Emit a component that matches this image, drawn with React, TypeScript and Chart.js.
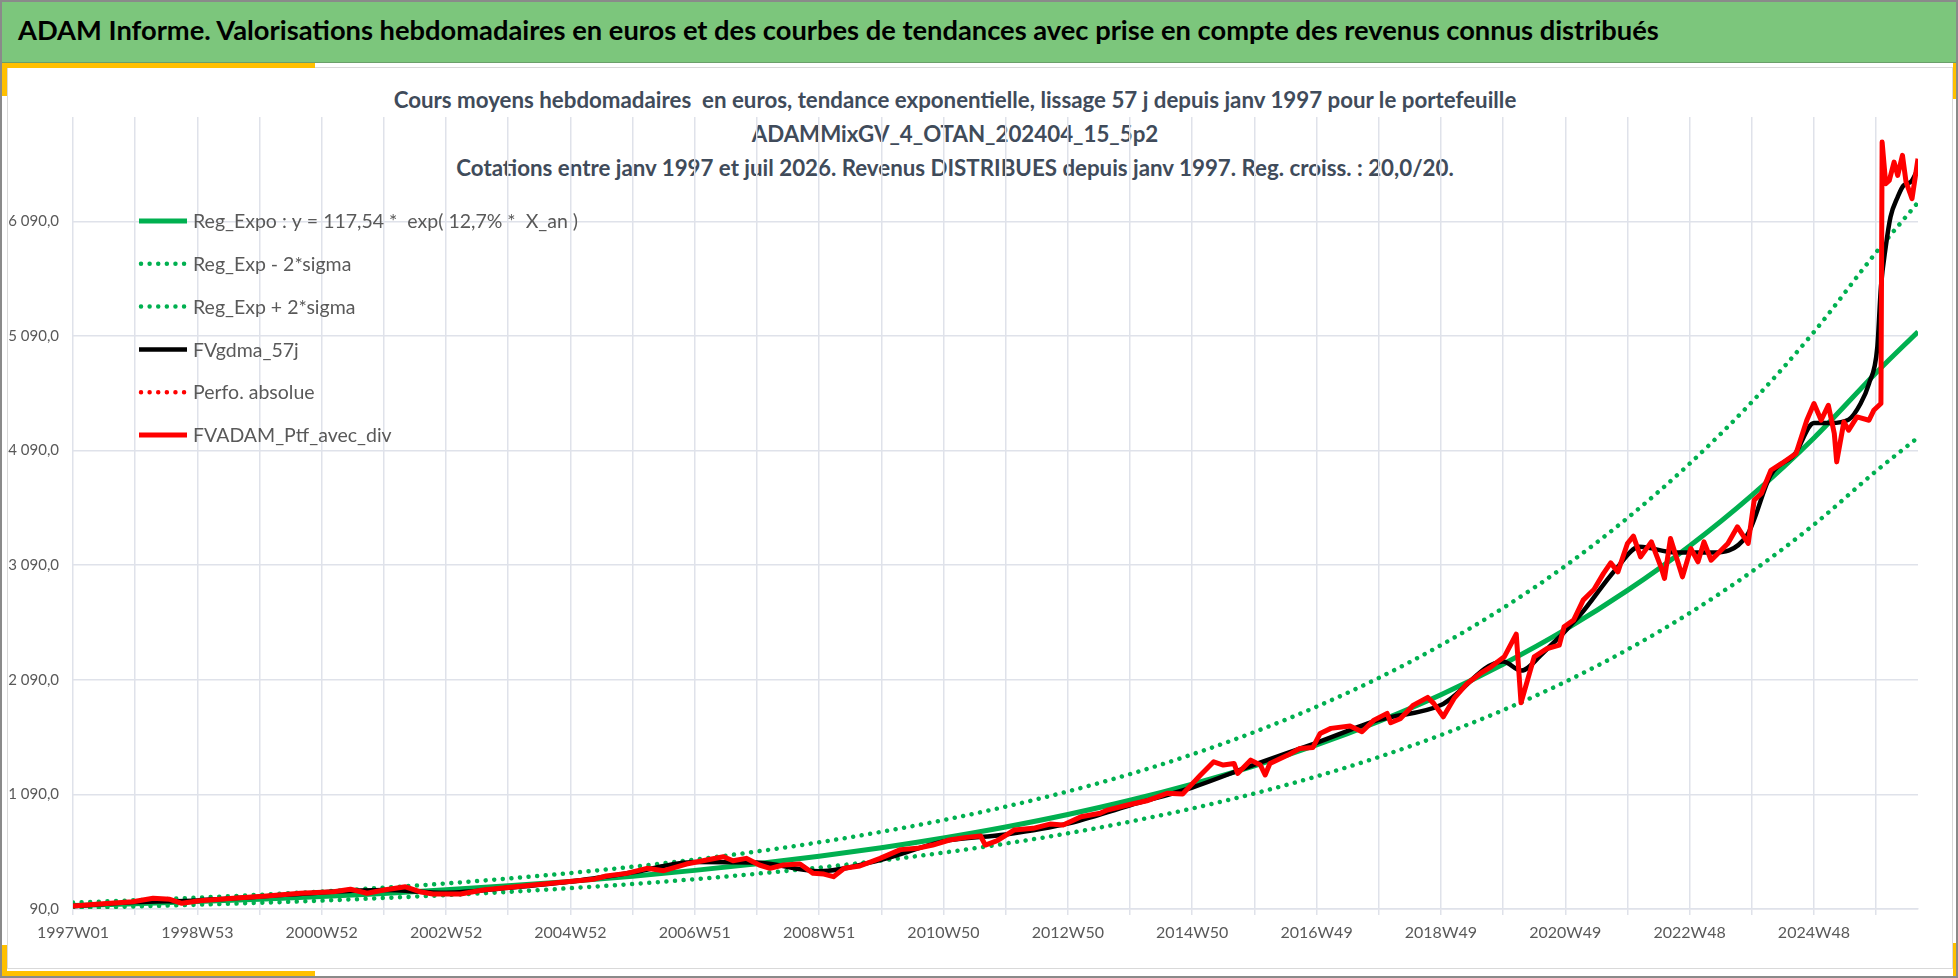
import { useEffect, useRef } from "react";
import { Chart, registerables } from "chart.js";

Chart.register(...registerables);

const FONT = "Lato, 'Open Sans', sans-serif";
const GREEN = "#00b050";
const RED = "#ff0000";
const GRID = "#dfe2ea";
const TEXT = "#595959";
const TITLE_COLOR = "#404b5a";

// x axis: week index since 1997W01, one gridline a year, one label every two years
const TICK_LABELS = [
  "1997W01", "1998W53", "2000W52", "2002W52", "2004W52", "2006W51", "2008W51", "2010W50",
  "2012W50", "2014W50", "2016W49", "2018W49", "2020W49", "2022W48", "2024W48",
];
const GRID_WEEKS = [
  0, 52, 104, 156, 208, 260, 312, 364, 416, 468, 520, 572, 624, 676, 728, 780,
  832, 884, 936, 988, 1040, 1092, 1144, 1196, 1248, 1300, 1352, 1404, 1456, 1508,
];
const LAST_WEEK = 1543;
const Y_TICKS = [90, 1090, 2090, 3090, 4090, 5090, 6090];

const SERIES_LABELS = [
  "Reg_Expo : y = 117,54 *  exp( 12,7% *  X_an )",
  "Reg_Exp - 2*sigma",
  "Reg_Exp + 2*sigma",
  "FVgdma_57j",
  "Perfo. absolue",
  "FVADAM_Ptf_avec_div",
];

// regression curves, read once a year
const REG_WEEKS = [
  0, 52, 104, 156, 208, 260, 312, 364, 416, 468, 520, 572, 624, 676, 728, 780,
  832, 884, 936, 988, 1040, 1092, 1144, 1196, 1248, 1300, 1352, 1404, 1456, 1508, 1543,
];
const REG_EXPO = [
  120, 136, 155, 176, 199, 226, 257, 292, 331, 376, 427, 485, 550, 625, 710, 806,
  915, 1039, 1180, 1339, 1521, 1727, 1960, 2226, 2527, 2870, 3258, 3699, 4200, 4769, 5127,
];
const REG_MINUS = [
  98, 112, 127, 144, 163, 186, 211, 239, 272, 308, 350, 398, 451, 513, 582, 661,
  750, 852, 967, 1098, 1247, 1416, 1608, 1825, 2072, 2353, 2672, 3034, 3444, 3911, 4204,
];
const REG_PLUS = [
  146, 166, 189, 214, 243, 276, 313, 356, 404, 459, 521, 592, 672, 763, 866, 983,
  1116, 1267, 1439, 1634, 1855, 2106, 2392, 2716, 3083, 3501, 3975, 4513, 5125, 5819, 6255,
];

// portfolio value with dividends
const PTF_WEEKS = [
  0, 22, 50, 67, 81, 91, 106, 134, 162, 190, 218, 232, 246, 260, 278, 290, 301, 324, 343, 366,
  385, 413, 435, 446, 463, 480, 494, 513, 530, 544, 552, 563, 574, 583, 594, 608, 619, 628, 636, 645,
  658, 675, 692, 706, 719, 733, 747, 759, 763, 773, 787, 803, 817, 828, 843, 859, 865, 882, 898, 915,
  928, 935, 943, 954, 962, 971, 974, 985, 993, 997, 1001, 1016, 1026, 1037, 1043, 1052, 1068, 1078, 1088, 1099,
  1102, 1110, 1121, 1133, 1138, 1146, 1155, 1166, 1177, 1186, 1197, 1207, 1211, 1222, 1233, 1243, 1247, 1255, 1263, 1272,
  1280, 1286, 1292, 1300, 1305, 1311, 1320, 1328, 1331, 1336, 1346, 1353, 1359, 1364, 1370, 1384, 1392, 1401, 1406, 1412,
  1420, 1429, 1441, 1450, 1456, 1462, 1468, 1473, 1475, 1481, 1485, 1492, 1502, 1506, 1512, 1513, 1516, 1519, 1523, 1526,
  1530, 1533, 1538, 1543,
];
const PTF_VALUES = [
  116, 134, 154, 183, 175, 140, 162, 183, 203, 227, 241, 262, 227, 256, 284, 241, 221, 221, 256, 279,
  299, 328, 349, 378, 401, 445, 424, 482, 517, 546, 511, 532, 474, 445, 474, 482, 401, 395, 372, 445,
  465, 532, 608, 619, 648, 692, 715, 727, 648, 686, 779, 794, 831, 823, 895, 925, 953, 997, 1034, 1099,
  1093, 1171, 1259, 1374, 1346, 1360, 1273, 1389, 1346, 1259, 1360, 1433, 1491, 1500, 1622, 1666, 1686, 1636, 1738, 1797,
  1715, 1750, 1869, 1936, 1884, 1767, 1927, 2058, 2145, 2203, 2290, 2488, 1889, 2290, 2363, 2392, 2552, 2610, 2785, 2878,
  3018, 3110, 3031, 3279, 3343, 3162, 3293, 3075, 2974, 3323, 2988, 3235, 3119, 3293, 3133, 3279, 3424, 3279, 3657, 3715,
  3918, 3977, 4064, 4354, 4500, 4354, 4485, 4238, 3991, 4339, 4267, 4383, 4354, 4441, 4500, 6781, 6418, 6447, 6607, 6491,
  6665, 6433, 6288, 6636,
];

// 57-day smoothed value
const GDMA_WEEKS = [
  0, 52, 104, 156, 208, 260, 312, 364, 416, 468, 520, 572, 624, 676, 728, 780,
  832, 884, 936, 988, 1040, 1092, 1144, 1196, 1211, 1230, 1260, 1290, 1310, 1340,
  1370, 1400, 1420, 1440, 1456, 1470, 1485, 1495, 1502, 1509, 1512, 1516, 1520, 1526,
  1531, 1537, 1543,
];
const GDMA_57J = [
  116, 150, 165, 198, 235, 255, 232, 275, 330, 410, 500, 495, 420, 520, 680, 740,
  835, 995, 1150, 1350, 1540, 1740, 1870, 2250, 2170, 2330, 2650, 3050, 3250, 3200,
  3200, 3350, 3880, 4060, 4330, 4330, 4360, 4500, 4674, 4994, 5517, 5866, 6128, 6302,
  6404, 6433, 6549,
];

const PERFO_ABS: number[] = [];

const pts = (xs: number[], ys: number[]) => xs.map((x, i) => ({ x, y: ys[i] }));

const frNumber = (v: number) => {
  const [i, d] = v.toFixed(1).split(".");
  return i.replace(/\B(?=(\d{3})+(?!\d))/g, " ") + "," + d;
};

// legend drawn inside the plot, top left, like the spreadsheet
const insideLegend = {
  id: "insideLegend",
  afterDraw(chart: any) {
    const { ctx } = chart;
    chart.data.datasets.forEach((ds: any, i: number) => {
      const y = 221 + i * 42.8;
      ctx.save();
      ctx.strokeStyle = ds.borderColor;
      ctx.lineWidth = ds.borderWidth;
      ctx.lineCap = ds.borderCapStyle || "butt";
      ctx.setLineDash(ds.borderDash || []);
      ctx.beginPath();
      ctx.moveTo(ds.borderDash ? 141 : 139, y);
      ctx.lineTo(187, y);
      ctx.stroke();
      ctx.setLineDash([]);
      ctx.fillStyle = TEXT;
      ctx.font = `19.5px ${FONT}`;
      ctx.textBaseline = "middle";
      ctx.fillText(ds.label, 193, y + 1);
      ctx.restore();
    });
  },
};

function TrendChart() {
  const canvasRef = useRef<HTMLCanvasElement>(null);

  useEffect(() => {
    if (!canvasRef.current) return;
    const dotted = { borderDash: [0.01, 8.6], borderCapStyle: "round" as const };
    const chart = new Chart(canvasRef.current, {
      type: "line",
      data: {
        datasets: [
          { label: SERIES_LABELS[0], data: pts(REG_WEEKS, REG_EXPO), borderColor: GREEN, borderWidth: 5, cubicInterpolationMode: "monotone", order: 4 },
          { label: SERIES_LABELS[1], data: pts(REG_WEEKS, REG_MINUS), borderColor: GREEN, borderWidth: 4.5, cubicInterpolationMode: "monotone", order: 5, ...dotted },
          { label: SERIES_LABELS[2], data: pts(REG_WEEKS, REG_PLUS), borderColor: GREEN, borderWidth: 4.5, cubicInterpolationMode: "monotone", order: 5, ...dotted },
          { label: SERIES_LABELS[3], data: pts(GDMA_WEEKS, GDMA_57J), borderColor: "#000000", borderWidth: 4.5, cubicInterpolationMode: "monotone", order: 3 },
          { label: SERIES_LABELS[4], data: PERFO_ABS, borderColor: RED, borderWidth: 4.5, order: 2, ...dotted },
          { label: SERIES_LABELS[5], data: pts(PTF_WEEKS, PTF_VALUES), borderColor: RED, borderWidth: 5, tension: 0, borderJoinStyle: "round", order: 1 },
        ],
      },
      options: {
        animation: false,
        responsive: true,
        maintainAspectRatio: false,
        parsing: false,
        elements: { point: { radius: 0 } },
        layout: { padding: { left: 0, top: 117, right: 40, bottom: 29 } },
        scales: {
          x: {
            type: "linear",
            min: 0,
            max: LAST_WEEK,
            afterBuildTicks: (s: any) => { s.ticks = GRID_WEEKS.map(value => ({ value })); },
            afterFit: (s: any) => { s.height = 40; },
            ticks: {
              autoSkip: false,
              maxRotation: 0,
              padding: 8,
              color: TEXT,
              font: { family: FONT, size: 16 },
              callback: (_v: any, i: number) => (i % 2 === 0 ? TICK_LABELS[i / 2] : ""),
            },
            grid: { color: GRID, lineWidth: 1.5, tickLength: 6 },
            border: { color: GRID, width: 1.5 },
          },
          y: {
            type: "linear",
            min: 90,
            max: 7000,
            afterBuildTicks: (s: any) => { s.ticks = Y_TICKS.map(value => ({ value })); },
            afterFit: (s: any) => { s.width = 73; },
            ticks: {
              padding: 14,
              color: TEXT,
              font: { family: FONT, size: 15 },
              callback: (v: any) => frNumber(Number(v)),
            },
            grid: { color: GRID, lineWidth: 1.5, drawTicks: false },
            border: { display: false },
          },
        },
        plugins: {
          legend: { display: false },
          tooltip: { enabled: false },
        },
      },
      plugins: [insideLegend],
    });
    return () => chart.destroy();
  }, []);

  return <canvas ref={canvasRef} />;
}

export default function App() {
  const abs = (s: React.CSSProperties): React.CSSProperties => ({ position: "absolute", ...s });
  const titleLine: React.CSSProperties = {
    position: "absolute", left: 0, width: 1910, textAlign: "center", color: TITLE_COLOR,
    fontFamily: FONT, fontSize: 22.3, fontWeight: 700, lineHeight: "26px", whiteSpace: "pre",
  };
  return (
    <div style={{ position: "relative", width: 1958, height: 978, background: "#ffffff", overflow: "hidden" }}>
      <style>{"body{margin:0}"}</style>
      {/* header band */}
      <div style={abs({ left: 0, top: 0, width: 1956, height: 62, background: "#7cc67c", borderBottom: "1px solid #6a9f6a" })} />
      <div style={abs({ left: 18, top: 13, fontFamily: FONT, fontSize: 27.3, fontWeight: 700, color: "#000", whiteSpace: "nowrap", lineHeight: "34px" })}>
        ADAM Informe. Valorisations hebdomadaires en euros et des courbes de tendances avec prise en compte des revenus connus distribués
      </div>
      {/* chart frame */}
      <div style={abs({ left: 7, top: 67, width: 1946, height: 902, border: "1.5px solid #d9d9d9", boxSizing: "border-box" })} />
      {/* yellow corners */}
      <div style={abs({ left: 0, top: 63, width: 315, height: 5, background: "#ffc000" })} />
      <div style={abs({ left: 0, top: 63, width: 7, height: 33, background: "#ffc000" })} />
      <div style={abs({ left: 1953, top: 63, width: 3, height: 36, background: "#ffc000" })} />
      <div style={abs({ left: 0, top: 971, width: 315, height: 6, background: "#ffc000" })} />
      <div style={abs({ left: 0, top: 945, width: 7, height: 32, background: "#ffc000" })} />
      <div style={abs({ left: 1953, top: 943, width: 3, height: 34, background: "#ffc000" })} />
      {/* chart titles */}
      <div style={{ ...titleLine, top: 87 }}>Cours moyens hebdomadaires  en euros, tendance exponentielle, lissage 57 j depuis janv 1997 pour le portefeuille</div>
      <div style={{ ...titleLine, top: 121 }}>ADAMMixGV_4_OTAN_202404_15_5p2</div>
      <div style={{ ...titleLine, top: 155 }}>Cotations entre janv 1997 et juil 2026. Revenus DISTRIBUES depuis janv 1997. Reg. croiss. : 20,0/20.</div>
      {/* outer border */}
      <div style={abs({ left: 0, top: 0, width: 1958, height: 978, border: "2px solid #8a8a8a", boxSizing: "border-box" })} />
      <div style={abs({ left: 0, top: 0, width: 1958, height: 978 })}>
        <TrendChart />
      </div>
    </div>
  );
}
